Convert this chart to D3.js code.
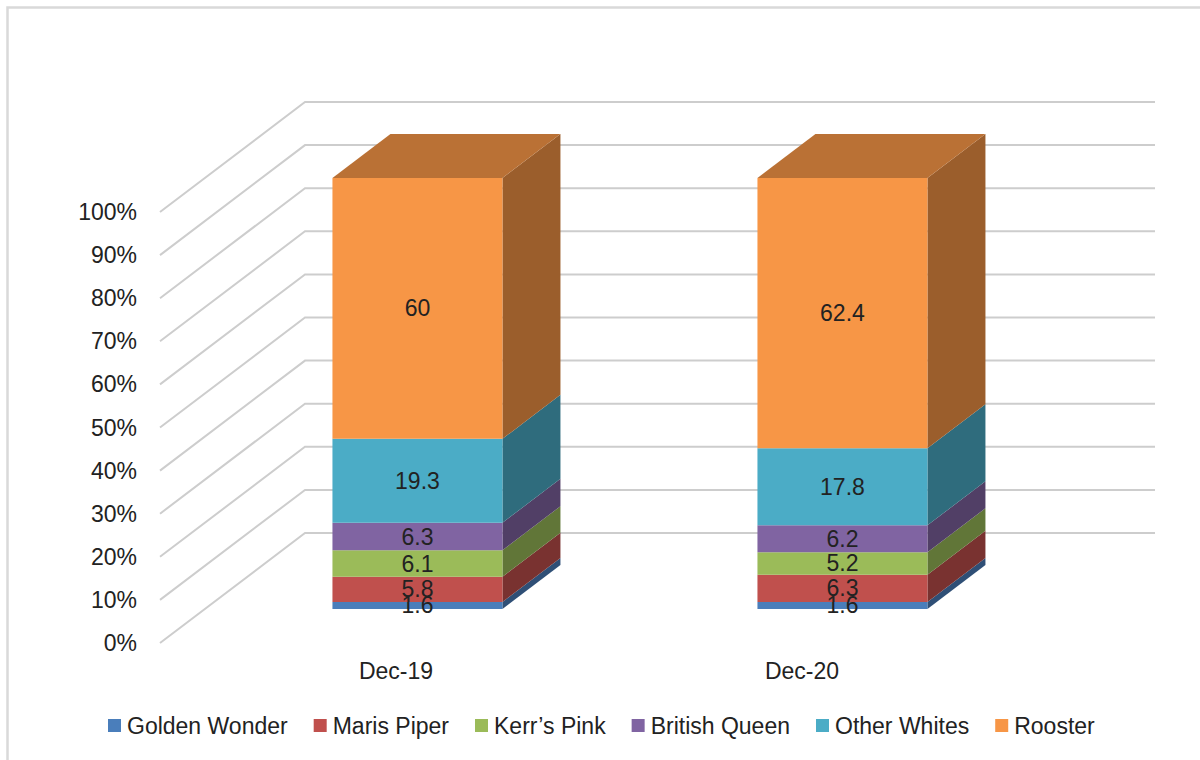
<!doctype html>
<html lang="en">
  <head>
    <meta charset="UTF-8" />
    <title>Potato varieties share</title>
    <script src="https://d3js.org/d3.v7.min.js"></script>
    <style>
      body { margin: 0; background: #fff; }
      svg { display: block; font-family: "Liberation Sans", Arial, Helvetica, sans-serif; }
    </style>
  </head>
  <body>
    <svg id="chart" width="1200" height="760"></svg>
  <script>
    // data
    const categories = ["Dec-19", "Dec-20"];
    const varieties = ["Golden Wonder", "Maris Piper", "Kerr\u2019s Pink", "British Queen", "Other Whites", "Rooster"];
    const dec19 = [1.6, 5.8, 6.1, 6.3, 19.3, 60];
    const dec20 = [1.6, 6.3, 5.2, 6.2, 17.8, 62.4];
    const tickValues = [0, 0.1, 0.2, 0.3, 0.4, 0.5, 0.6, 0.7, 0.8, 0.9, 1];
    const colors = ["#4a7ebb", "#c0504d", "#9bbb59", "#8064a2", "#4bacc6", "#f79646"];

    const rows = categories.map((c, i) => {
      const vals = i === 0 ? dec19 : dec20;
      const r = { cat: c };
      varieties.forEach((v, j) => r[v] = vals[j]);
      return r;
    });

    const FS = 23;
    const svg = d3.select("#chart");

    // outer frame (only top and left edges are inside the picture)
    svg.append("path")
      .attr("d", "M7.5,760 L7.5,7.5 L1200,7.5")
      .attr("fill", "none")
      .attr("stroke", "#d9d9d9")
      .attr("stroke-width", 2.5);

    // front plane scales + oblique depth
    const x = d3.scaleBand().domain(categories).range([160, 1010]).paddingInner(0.6).paddingOuter(0.3);
    const xLabel = d3.scalePoint().domain(categories).range([193, 1005]).padding(0.5);
    const y = d3.scaleLinear().domain([0, 1]).range([643, 212]);
    const DX = 145, DY = -110;
    const z0 = 0.31, z1 = 0.71;
    const P = (px, v, z) => [px + z * DX, y(v) + z * DY];

    // walls
    const grid = svg.append("g");
    tickValues.forEach(t => {
      const a = P(160, t, 0), b = P(160, t, 1), c = P(1010, t, 1);
      grid.append("path")
        .attr("d", d3.line()([a, b, c]))
        .attr("fill", "none")
        .attr("stroke", "#cdcdcd")
        .attr("stroke-width", 2);
    });

    // y tick labels
    svg.append("g").selectAll("text")
      .data(tickValues)
      .join("text")
      .attr("x", 137)
      .attr("y", d => y(d))
      .attr("dy", "0.35em")
      .attr("text-anchor", "end")
      .attr("font-size", FS)
      .attr("fill", "#222")
      .text(d => d3.format(".0%")(d));

    // stacked, normalised to 100%
    const series = d3.stack().keys(varieties).offset(d3.stackOffsetExpand)(rows);

    const bars = svg.append("g");
    categories.forEach((cat, ci) => {
      const x0 = x(cat), x1 = x(cat) + x.bandwidth();
      series.forEach((s, si) => {
        const d = s[ci];
        const col = d3.rgb(colors[si]);
        const side = [P(x1, d[0], z0), P(x1, d[0], z1), P(x1, d[1], z1), P(x1, d[1], z0)];
        bars.append("polygon")
          .attr("points", side.map(p => p.join(",")).join(" "))
          .attr("fill", col.darker(1.3));
        const front = [P(x0, d[0], z0), P(x1, d[0], z0), P(x1, d[1], z0), P(x0, d[1], z0)];
        bars.append("polygon")
          .attr("points", front.map(p => p.join(",")).join(" "))
          .attr("fill", col);
        if (si === series.length - 1) {
          const top = [P(x0, d[1], z0), P(x1, d[1], z0), P(x1, d[1], z1), P(x0, d[1], z1)];
          bars.append("polygon")
            .attr("points", top.map(p => p.join(",")).join(" "))
            .attr("fill", col.darker(0.8));
        }
      });
    });

    // data labels on the front faces
    const labels = svg.append("g");
    categories.forEach((cat, ci) => {
      const cx = x(cat) + x.bandwidth() / 2;
      series.forEach((s, si) => {
        const d = s[ci];
        const p = P(cx, (d[0] + d[1]) / 2, z0);
        labels.append("text")
          .attr("x", p[0])
          .attr("y", p[1])
          .attr("dy", "0.35em")
          .attr("text-anchor", "middle")
          .attr("font-size", FS)
          .attr("fill", "#222")
          .text(rows[ci][s.key]);
      });
    });

    // category labels
    svg.append("g").selectAll("text")
      .data(categories)
      .join("text")
      .attr("x", d => xLabel(d))
      .attr("y", 671)
      .attr("dy", "0.35em")
      .attr("text-anchor", "middle")
      .attr("font-size", FS)
      .attr("fill", "#222")
      .text(d => d);

    // legend
    const legend = svg.append("g");
    let lx = 108;
    varieties.forEach((v, i) => {
      legend.append("rect")
        .attr("x", lx).attr("y", 719)
        .attr("width", 13).attr("height", 13)
        .attr("fill", colors[i]);
      const t = legend.append("text")
        .attr("x", lx + 19)
        .attr("y", 726)
        .attr("dy", "0.35em")
        .attr("font-size", FS)
        .attr("fill", "#222")
        .text(v);
      lx += 19 + t.node().getComputedTextLength() + 26;
    });
  </script>
  </body>
</html>
